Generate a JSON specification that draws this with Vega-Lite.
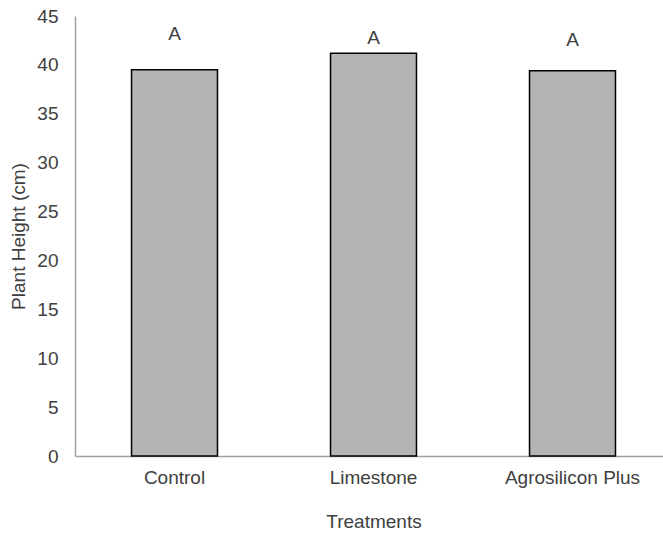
{
  "$schema": "https://vega.github.io/schema/vega-lite/v6.json",
  "autosize": "none",
  "padding": {"left": 75, "top": 16, "right": 0, "bottom": 77},
  "width": 597,
  "height": 440,
  "background": "white",
  "config": {
    "view": {"stroke": null},
    "font": "Liberation Sans",
    "axis": {"labelFont": "Liberation Sans", "titleFont": "Liberation Sans", "labelColor": "#404040", "titleColor": "#404040", "labelFontSize": 19, "titleFontSize": 19, "titleFontWeight": "normal", "grid": false, "ticks": false, "domainColor": "#a0a0a0", "domainWidth": 1.5}
  },
  "data": {
    "values": [
      {"Treatment": "Control", "Height": 39.5, "Letter": "A", "LetterPos": 43.2},
      {"Treatment": "Limestone", "Height": 41.2, "Letter": "A", "LetterPos": 42.8},
      {"Treatment": "Agrosilicon Plus", "Height": 39.4, "Letter": "A", "LetterPos": 42.5}
    ]
  },
  "encoding": {
    "x": {
      "field": "Treatment", "type": "nominal", "sort": null,
      "scale": {"paddingInner": 0.568, "paddingOuter": 0.284},
      "axis": {"title": "Treatments", "labelAngle": 0, "labelPadding": 12, "titlePadding": 25}
    }
  },
  "layer": [
    {
      "mark": {"type": "bar", "fill": "#b4b4b4", "stroke": "#000000", "strokeWidth": 1.5},
      "encoding": {
        "y": {"field": "Height", "type": "quantitative", "scale": {"domain": [0, 45]}, "axis": {"title": "Plant Height (cm)", "values": [0,5,10,15,20,25,30,35,40,45], "labelPadding": 17, "titlePadding": 8}}
      }
    },
    {
      "mark": {"type": "text", "fontSize": 19, "color": "#404040", "font": "Liberation Sans"},
      "encoding": {
        "y": {"field": "LetterPos", "type": "quantitative"},
        "text": {"field": "Letter"}
      }
    }
  ]
}
